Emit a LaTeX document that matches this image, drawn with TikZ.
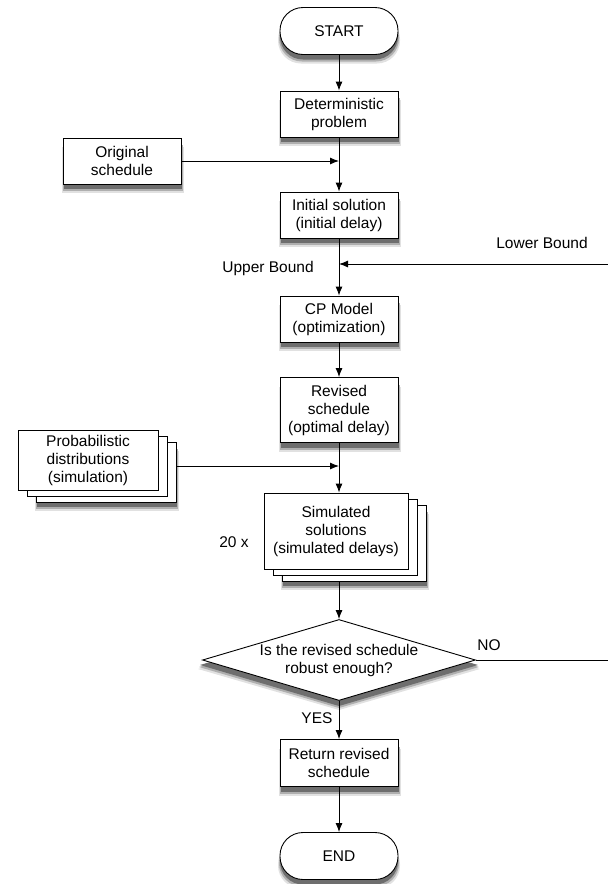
\documentclass[tikz,border=0pt]{standalone}
\usepackage{fontspec}
\setmainfont{Liberation Sans}
\usetikzlibrary{shapes.geometric,shadows,arrows.meta}

\definecolor{shadowA}{RGB}{225,225,225}
\definecolor{shadowB}{RGB}{175,175,175}
\definecolor{shadowC}{RGB}{110,110,110}

\tikzset{
  stepbox/.style={draw, fill=white, line width=0.9pt, align=center,
    minimum width=118pt, minimum height=46pt, inner sep=2pt},
  terminal/.style={stepbox, minimum height=47pt, rounded corners=23pt},
  stackbox/.style={draw, fill=white, line width=0.9pt, align=center, inner sep=2pt,
    double copy shadow={shadow xshift=9pt, shadow yshift=-6pt}},
  decision/.style={diamond, draw, fill=white, line width=0.9pt, align=center,
    aspect=3.3, inner sep=0pt, minimum width=273pt, minimum height=81pt},
  shadowfill/.style={fill=#1, draw=none},
  flow/.style={->, line width=0.9pt},
}

\begin{document}
\begin{tikzpicture}[x=1pt,y=-1pt,>={Latex[length=9pt,width=7pt]},
    font=\fontsize{15.5pt}{18pt}\selectfont]
  \useasboundingbox (0,0) rectangle (608,884);

  % soft shadows first: centre x/y, half width, half height
  \foreach \d/\c/\e in {9/shadowA/2,7/shadowB/1,5/shadowC/0} {
    \foreach \x/\y/\w/\h in {339/114/59/23, 122/161/59/23, 339/215/59/23, 339/319/59/23,
        339/410/59/32.5, 339/763/59/23.5, 106/472/70/30, 354/543/72/38}
      \fill[shadowfill=\c] (\x-\w-\e+1,\y-\h+\d) rectangle (\x+\w+\e+1,\y+\h+\d);
    \foreach \y in {31,856}
      \fill[shadowfill=\c, rounded corners=23pt] (280-\e,\y-23.5+\d) rectangle (398+\e,\y+23.5+\d);
    \fill[shadowfill=\c] (339,619+\d) -- (478+\e,660+\d) -- (339,701+\d) -- (200-\e,660+\d) -- cycle;
  }

  % main column
  \node[terminal] (start) at (339,31) {START};
  \node[stepbox] (det) at (339,114) {Deterministic\\problem};
  \node[stepbox] (orig) at (122,161) {Original\\schedule};
  \node[stepbox] (init) at (339,215) {Initial solution\\(initial delay)};
  \node[stepbox] (cp) at (339,319) {CP Model\\(optimization)};
  \node[stepbox, minimum height=65pt] (rev) at (339,410) {Revised\\schedule\\(optimal delay)};
  \node[stackbox, minimum width=140pt, minimum height=60pt] (prob) at (88,460)
    {Probabilistic\\distributions\\(simulation)};
  \node[stackbox, minimum width=144pt, minimum height=76pt] (sim) at (336,531)
    {Simulated\\solutions\\(simulated delays)};
  \node[decision] (robust) at (339,660) {Is the revised schedule\\robust enough?};
  \node[stepbox, minimum height=47pt] (ret) at (339,763) {Return revised\\schedule};
  \node[terminal] (end) at (339,856) {END};

  % loose ends at the right border
  \coordinate (lbin) at (608,264);
  \coordinate (noout) at (608,660);

  % connectors
  \draw[flow] (start) -- (det);
  \draw[flow] (det) -- (init);
  \draw[flow] (orig.east) -- (orig.east -| det.south);
  \draw[flow] (init) -- (cp);
  \draw[flow] (lbin) -- (lbin -| init.south);
  \draw[flow] (cp) -- (rev);
  \draw[flow] (rev.south) -- (rev.south |- sim.north);
  \draw[flow] ([xshift=18pt,yshift=-6pt]prob.east) -- ([yshift=-6pt]prob.east -| rev.south);
  \draw[flow] ([yshift=-12pt]sim.south -| rev.south) -- (robust.north);
  \draw (robust.east) -- (robust.east -| noout);
  \draw[flow] (robust) -- (ret);
  \draw[flow] (ret) -- (end);

  % labels
  \node (ubl) at (268,268) {Upper Bound};
  \node (lbl) at (542,243) {Lower Bound};
  \node (times) at (234,542) {20 x};
  \node (nol) at (489,645) {NO};
  \node (yesl) at (317,718) {YES};
\end{tikzpicture}
\end{document}
